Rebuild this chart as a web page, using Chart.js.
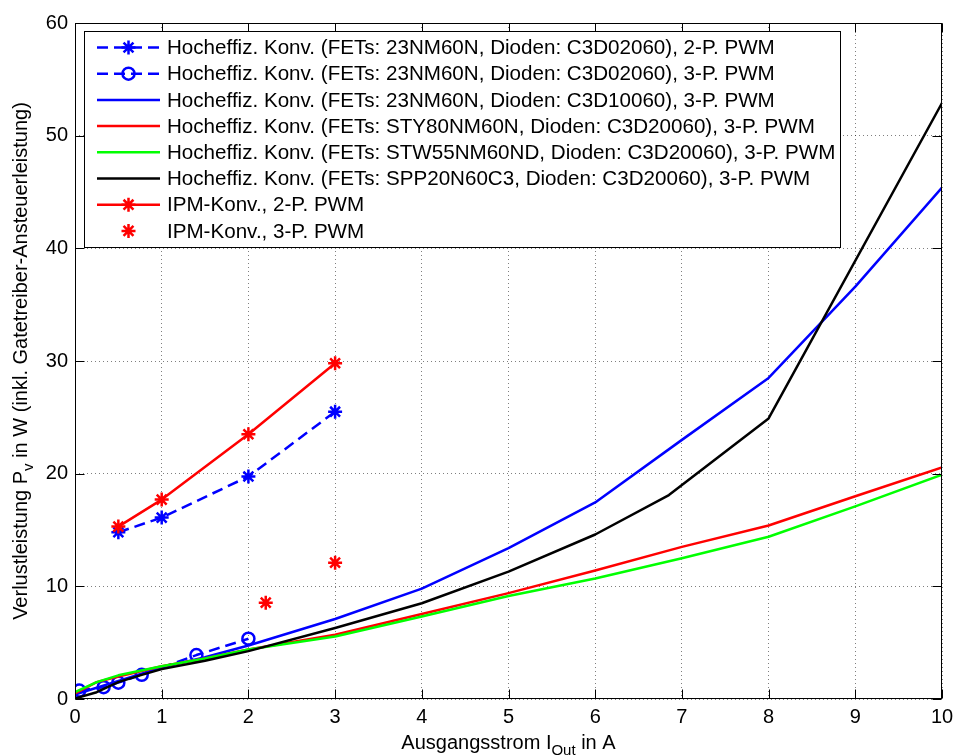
<!DOCTYPE html>
<html><head><meta charset="utf-8">
<script src="https://cdn.jsdelivr.net/npm/chart.js@4.4.1/dist/chart.umd.min.js"></script>
<style>html,body{margin:0;padding:0;background:#fff}</style>
</head><body>
<canvas id="c" width="953" height="756"></canvas>
<script>
// ---- data ----
const xTicks = [0,1,2,3,4,5,6,7,8,9,10];
const yTicks = [0,10,20,30,40,50,60];

const labels = [
  'Hocheffiz. Konv. (FETs: 23NM60N, Dioden: C3D02060), 2-P. PWM',
  'Hocheffiz. Konv. (FETs: 23NM60N, Dioden: C3D02060), 3-P. PWM',
  'Hocheffiz. Konv. (FETs: 23NM60N, Dioden: C3D10060), 3-P. PWM',
  'Hocheffiz. Konv. (FETs: STY80NM60N, Dioden: C3D20060), 3-P. PWM',
  'Hocheffiz. Konv. (FETs: STW55NM60ND, Dioden: C3D20060), 3-P. PWM',
  'Hocheffiz. Konv. (FETs: SPP20N60C3, Dioden: C3D20060), 3-P. PWM',
  'IPM-Konv., 2-P. PWM',
  'IPM-Konv., 3-P. PWM'
];

const xHe2P = [0.5, 1, 2, 3];
const yHe2P = [14.8, 16.1, 19.75, 25.5];

const xHe3P = [0.05, 0.33, 0.5, 0.77, 1.4, 2];
const yHe3P = [0.75, 1.05, 1.45, 2.15, 3.9, 5.35];

const xC3D10060 = [0, 0.25, 0.5, 1, 1.5, 2, 3, 4, 5, 6, 7, 8, 9, 10];
const yC3D10060 = [0.4, 1.0, 1.6, 2.8, 3.7, 4.75, 7.1, 9.8, 13.4, 17.45, 23.0, 28.5, 36.6, 45.4];

const xSTY80 = [0, 0.25, 0.5, 1, 1.5, 2, 3, 4, 5, 6, 7, 8, 9, 10];
const ySTY80 = [0.5, 1.5, 2.0, 2.9, 3.6, 4.4, 5.7, 7.55, 9.4, 11.4, 13.5, 15.4, 18.0, 20.55];

const xSTW55 = [0, 0.25, 0.5, 1, 1.5, 2, 3, 4, 5, 6, 7, 8, 9, 10];
const ySTW55 = [0.6, 1.5, 2.1, 2.9, 3.6, 4.4, 5.55, 7.33, 9.15, 10.7, 12.5, 14.4, 17.1, 19.9];

const xSPP20 = [0, 0.25, 0.5, 0.75, 1, 1.5, 2, 3, 4, 5, 6, 6.85, 8, 10];
const ySPP20 = [0.05, 0.6, 1.5, 2.1, 2.65, 3.4, 4.25, 6.3, 8.5, 11.3, 14.6, 18.1, 24.9, 52.9];

const xIpm2P = [0.5, 1, 2, 3];
const yIpm2P = [15.3, 17.7, 23.5, 29.8];

const xIpm3P = [2.2, 3];
const yIpm3P = [8.55, 12.1];

// ---- helpers ----
const pts = (xs, ys) => xs.map((v, i) => ({x: v, y: ys[i]}));
const FONT = '"Liberation Sans", Arial, Helvetica, sans-serif';
const FS = 20;
const LFS = 20.6;
const BLUE = '#0000ff', RED = '#ff0000', GREEN = '#00ff00', BLACK = '#000000';

function ds(i, xs, ys, color, opts) {
  return Object.assign({
    label: labels[i],
    data: pts(xs, ys),
    borderColor: color,
    backgroundColor: color,
    pointBorderColor: color,
    pointBackgroundColor: color,
    borderWidth: 2.5,
    pointRadius: 0,
    pointHoverRadius: 0,
    pointBorderWidth: 2.5,
    showLine: true,
    tension: 0,
    order: 20 - i
  }, opts || {});
}

const datasets = [
  ds(0, xHe2P, yHe2P, BLUE, {borderDash: [11, 6], pointStyle: 'star', pointRadius: 7}),
  ds(1, xHe3P, yHe3P, BLUE, {borderDash: [11, 6], pointStyle: 'circle', pointRadius: 6, pointBackgroundColor: 'rgba(0,0,0,0)'}),
  ds(2, xC3D10060, yC3D10060, BLUE),
  ds(3, xSTY80, ySTY80, RED),
  ds(4, xSTW55, ySTW55, GREEN),
  ds(5, xSPP20, ySPP20, BLACK),
  ds(6, xIpm2P, yIpm2P, RED, {pointStyle: 'star', pointRadius: 7}),
  ds(7, xIpm3P, yIpm3P, RED, {pointStyle: 'star', pointRadius: 7, showLine: false})
];

// ---- custom decorations: frame, inward ticks, legend, axis titles ----
const decor = {
  id: 'decor',
  afterDraw(chart) {
    const {ctx, chartArea: a, scales} = chart;
    const xs = scales.x, ys = scales.y;
    ctx.save();
    ctx.strokeStyle = '#000';
    ctx.lineWidth = 1;
    ctx.setLineDash([]);
    const L = Math.round(a.left) + 0.5, R = Math.round(a.right) - 0.5;
    const T = Math.round(a.top) + 0.5, B = Math.round(a.bottom) - 0.5;
    ctx.strokeRect(L, T, R - L, B - T);
    const tl = 9;
    ctx.beginPath();
    xTicks.forEach(v => {
      const p = Math.round(xs.getPixelForValue(v)) + 0.5;
      ctx.moveTo(p, B); ctx.lineTo(p, B - tl);
      ctx.moveTo(p, T); ctx.lineTo(p, T + tl);
    });
    yTicks.forEach(v => {
      const p = Math.round(ys.getPixelForValue(v)) + 0.5;
      ctx.moveTo(L, p); ctx.lineTo(L + tl, p);
      ctx.moveTo(R, p); ctx.lineTo(R - tl, p);
    });
    ctx.stroke();

    // legend
    const lx0 = 84.5, ly0 = 31.5, lx1 = 840.5, ly1 = 247.5;
    ctx.fillStyle = '#fff';
    ctx.fillRect(lx0, ly0, lx1 - lx0, ly1 - ly0);
    ctx.strokeStyle = '#000';
    ctx.lineWidth = 1;
    ctx.strokeRect(lx0, ly0, lx1 - lx0, ly1 - ly0);
    ctx.font = LFS + 'px ' + FONT;
    ctx.textBaseline = 'middle';
    ctx.textAlign = 'left';
    chart.data.datasets.forEach((d, i) => {
      const yy = 47.5 + i * 26.2;
      if (d.showLine !== false) {
        ctx.save();
        ctx.strokeStyle = d.borderColor;
        ctx.lineWidth = d.borderWidth;
        ctx.setLineDash(d.borderDash || []);
        ctx.beginPath();
        ctx.moveTo(97, yy); ctx.lineTo(160, yy);
        ctx.stroke();
        ctx.restore();
      }
      if (d.pointRadius > 0) {
        ctx.save();
        ctx.setLineDash([]);
        ctx.strokeStyle = d.pointBorderColor;
        ctx.fillStyle = d.pointBackgroundColor;
        ctx.lineWidth = d.pointBorderWidth;
        Chart.helpers.drawPoint(ctx, {pointStyle: d.pointStyle, radius: d.pointRadius, rotation: 0, borderWidth: d.pointBorderWidth}, 128.5, yy);
        ctx.restore();
      }
      ctx.fillStyle = '#000';
      ctx.fillText(d.label, 167, yy + 1);
    });

    // x axis title with subscript
    ctx.fillStyle = '#000';
    ctx.textBaseline = 'alphabetic';
    const big = FS + 'px ' + FONT, small = '15px ' + FONT;
    const xa = 'Ausgangsstrom I', xb = 'Out', xc = ' in A';
    ctx.font = big; const wa = ctx.measureText(xa).width, wc = ctx.measureText(xc).width;
    ctx.font = small; const wb = ctx.measureText(xb).width;
    let sx = (a.left + a.right) / 2 - (wa + wb + wc) / 2;
    const by = 749;
    ctx.font = big; ctx.fillText(xa, sx, by); sx += wa;
    ctx.font = small; ctx.fillText(xb, sx, by + 6); sx += wb;
    ctx.font = big; ctx.fillText(xc, sx, by);

    // y axis title with subscript
    const ya = 'Verlustleistung P', yb = 'v', yc = ' in W (inkl. Gatetreiber-Ansteuerleistung)';
    ctx.font = big; const va = ctx.measureText(ya).width, vc = ctx.measureText(yc).width;
    ctx.font = small; const vb = ctx.measureText(yb).width;
    ctx.save();
    ctx.translate(27, (a.top + a.bottom) / 2);
    ctx.rotate(-Math.PI / 2);
    let sy = -(va + vb + vc) / 2;
    ctx.font = big; ctx.fillText(ya, sy, 0); sy += va;
    ctx.font = small; ctx.fillText(yb, sy, 6); sy += vb;
    ctx.font = big; ctx.fillText(yc, sy, 0);
    ctx.restore();

    ctx.restore();
  }
};

Chart.defaults.font.family = FONT;
Chart.defaults.color = '#000';

new Chart(document.getElementById('c'), {
  type: 'line',
  data: {datasets},
  options: {
    responsive: false,
    animation: false,
    devicePixelRatio: 1,
    layout: {padding: {left: 0, right: 11, top: 23, bottom: 0}},
    plugins: {legend: {display: false}, tooltip: {enabled: false}, title: {display: false}},
    elements: {line: {borderCapStyle: 'butt', borderJoinStyle: 'round'}},
    scales: {
      x: {
        type: 'linear', min: 0, max: 10,
        afterBuildTicks(s) { s.ticks = xTicks.map(v => ({value: v})); },
        afterFit(s) { s.height = 57; s.paddingLeft = 0; s.paddingRight = 0; },
        ticks: {font: {size: FS}, color: '#000', padding: 6, maxRotation: 0},
        grid: {color: 'rgba(0,0,0,0.5)', lineWidth: 1, drawTicks: false},
        border: {display: false, dash: [1, 3]}
      },
      y: {
        type: 'linear', min: 0, max: 60,
        afterBuildTicks(s) { s.ticks = yTicks.map(v => ({value: v})); },
        afterFit(s) { s.width = 75; s.paddingTop = 0; s.paddingBottom = 0; },
        ticks: {font: {size: FS}, color: '#000', padding: 7},
        grid: {color: 'rgba(0,0,0,0.5)', lineWidth: 1, drawTicks: false},
        border: {display: false, dash: [1, 3]}
      }
    }
  },
  plugins: [decor]
});
</script>
</body></html>
